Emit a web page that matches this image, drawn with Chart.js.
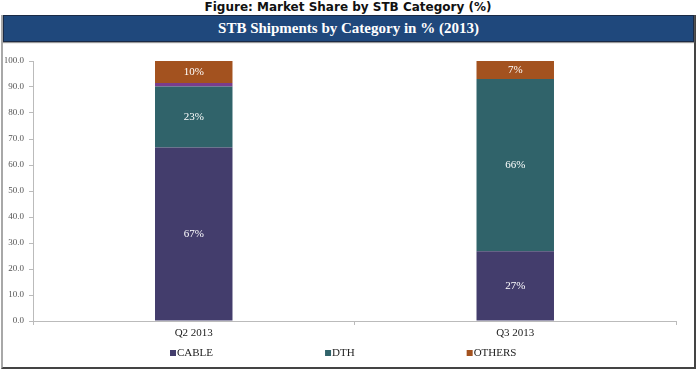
<!DOCTYPE html>
<html>
<head>
<meta charset="utf-8">
<script src="https://cdn.jsdelivr.net/npm/chart.js@4"></script>
<style>
  body { margin: 0; background: #fff; }
  #page { position: relative; width: 696px; height: 371px; overflow: hidden; }
  #fig { position: absolute; left: 0; top: 0; width: 696px; height: 15px; text-align: center;
    font: bold 12px "DejaVu Sans", sans-serif; color: #111; line-height: 15px; }
  #frame { position: absolute; left: 1px; top: 15px; width: 691px; height: 352px;
    border-left: 2px solid #a8a8a8; border-right: 2px solid #444; border-bottom: 2px solid #444; }
  #head { position: absolute; left: 0; top: 0; width: 689px; height: 25px;
    background: #1f487c; border: 1px solid #1a2a45; box-shadow: 0 1px 1px #999;
    color: #fff; text-align: center; font: bold 15px "Liberation Serif", serif; line-height: 25px; }
  #wrap { position: absolute; left: 2px; top: 28px; width: 689px; height: 324px; }
</style>
</head>
<body>
<div id="page">
  <div id="fig">Figure: Market Share by STB Category (%)</div>
  <div id="frame">
    <div id="head">STB Shipments by Category in % (2013)</div>
    <div id="wrap"><canvas id="chart"></canvas></div>
  </div>
</div>
<script>
const categories = ["Q2 2013", "Q3 2013"];
const cable = [66.7, 26.8];
const dth = [23.5, 66.3];
const other = [1.3, 0];
const others = [8.5, 6.9];
const cableLabels = ["67%", "27%"];
const dthLabels = ["23%", "66%"];
const othersLabels = ["10%", "7%"];
const yTicks = [0, 10, 20, 30, 40, 50, 60, 70, 80, 90, 100];

const serif = "'Liberation Serif', 'Times New Roman', serif";

// white labels in the middle of each segment
const segmentLabels = {
  id: "segmentLabels",
  afterDatasetsDraw(chart) {
    const ctx = chart.ctx;
    ctx.save();
    ctx.fillStyle = "#fff";
    ctx.font = "11px " + serif;
    ctx.textAlign = "center";
    ctx.textBaseline = "middle";
    chart.data.datasets.forEach((ds, i) => {
      if (!ds.valueLabels) return;
      chart.getDatasetMeta(i).data.forEach((bar, j) => {
        const txt = ds.valueLabels[j];
        if (!txt) return;
        ctx.fillText(txt, bar.x, (bar.y + bar.base) / 2);
      });
    });
    ctx.restore();
  }
};

// legend along the bottom, spaced like the original
const bottomLegend = {
  id: "bottomLegend",
  afterDraw(chart) {
    const ctx = chart.ctx;
    ctx.save();
    ctx.font = "11px " + serif;
    ctx.textBaseline = "middle";
    const y = chart.chartArea.bottom + 32;
    let x = 165;
    chart.data.datasets.forEach(ds => {
      if (!ds.inLegend) return;
      ctx.fillStyle = ds.backgroundColor;
      ctx.fillRect(x, y - 3, 6, 6);
      ctx.fillStyle = "#222";
      ctx.fillText(ds.label, x + 7, y);
      x += 7 + ctx.measureText(ds.label).width + 112;
    });
    ctx.restore();
  }
};

new Chart(document.getElementById("chart"), {
  type: "bar",
  data: {
    labels: categories,
    datasets: [
      { label: "CABLE", data: cable, backgroundColor: "#433d6c", valueLabels: cableLabels, inLegend: true },
      { label: "DTH", data: dth, backgroundColor: "#30636a", valueLabels: dthLabels, inLegend: true },
      { label: "IPTV", data: other, backgroundColor: "#7a3d8c" },
      { label: "OTHERS", data: others, backgroundColor: "#a3521f", valueLabels: othersLabels, inLegend: true }
    ]
  },
  options: {
    responsive: true,
    maintainAspectRatio: false,
    animation: false,
    layout: { padding: { top: 18, right: 18, bottom: 24, left: 0 } },
    datasets: { bar: { categoryPercentage: 1, barPercentage: 0.241 } },
    plugins: {
      legend: { display: false },
      tooltip: { enabled: false }
    },
    scales: {
      x: {
        stacked: true,
        grid: { drawOnChartArea: false, tickLength: 4, color: "#bbb" },
        border: { color: "#bbb" },
        ticks: { color: "#222", padding: 2, font: { family: serif, size: 11 } },
        afterFit(scale) { scale.height = 22; }
      },
      y: {
        stacked: true,
        min: 0,
        max: 100,
        afterBuildTicks(scale) { scale.ticks = yTicks.map(v => ({ value: v })); },
        grid: { drawOnChartArea: false, tickLength: 4, color: "#bbb" },
        border: { color: "#bbb" },
        ticks: {
          color: "#555",
          padding: 5,
          font: { family: serif, size: 9 },
          callback: v => v.toFixed(1)
        },
        afterFit(scale) { scale.width = 28; }
      }
    }
  },
  plugins: [segmentLabels, bottomLegend]
});
</script>
</body>
</html>
